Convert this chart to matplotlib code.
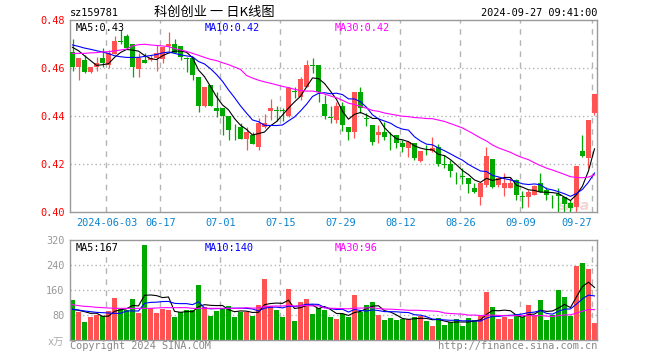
import numpy as np
import pandas as pd
import matplotlib
matplotlib.use('Agg')
import matplotlib.pyplot as plt

plt.rcParams['font.family'] = ['DejaVu Sans Mono', 'Noto Sans CJK SC']

# daily candles, 2024-05-24 .. 2024-09-27
opens = [0.4668, 0.4606, 0.4633, 0.4582, 0.4606, 0.4643, 0.4613, 0.4657, 0.4710, 0.4733,
         0.4699, 0.4594, 0.4633, 0.4633, 0.4640, 0.4636, 0.4692, 0.4699, 0.4692, 0.4640,
         0.4640, 0.4564, 0.4443, 0.4529, 0.4435, 0.4435, 0.4400, 0.4343, 0.4356, 0.4304,
         0.4321, 0.4269, 0.4356, 0.4422, 0.4424, 0.4424, 0.4400, 0.4506, 0.4481, 0.4522,
         0.4614, 0.4613, 0.4450, 0.4394, 0.4383, 0.4442, 0.4356, 0.4335, 0.4501, 0.4392,
         0.4363, 0.4322, 0.4332, 0.4306, 0.4321, 0.4286, 0.4265, 0.4289, 0.4214, 0.4260,
         0.4256, 0.4272, 0.4201, 0.4200, 0.4151, 0.4151, 0.4140, 0.4099, 0.4064, 0.4113,
         0.4219, 0.4113, 0.4101, 0.4101, 0.4133, 0.4065, 0.4064, 0.4071, 0.4119, 0.4092,
         0.4055, 0.4074, 0.4064, 0.4036, 0.4022, 0.4254, 0.4224, 0.4411]
highs = [0.4719, 0.4642, 0.4654, 0.4606, 0.4647, 0.4682, 0.4675, 0.4733, 0.4758, 0.4740,
         0.4699, 0.4661, 0.4661, 0.4654, 0.4696, 0.4686, 0.4749, 0.4719, 0.4692, 0.4644,
         0.4640, 0.4564, 0.4522, 0.4529, 0.4501, 0.4435, 0.4400, 0.4365, 0.4369, 0.4356,
         0.4335, 0.4390, 0.4407, 0.4470, 0.4442, 0.4435, 0.4522, 0.4522, 0.4564, 0.4633,
         0.4640, 0.4613, 0.4488, 0.4443, 0.4457, 0.4460, 0.4356, 0.4501, 0.4522, 0.4411,
         0.4363, 0.4363, 0.4376, 0.4335, 0.4321, 0.4300, 0.4293, 0.4289, 0.4256, 0.4279,
         0.4314, 0.4283, 0.4238, 0.4217, 0.4168, 0.4182, 0.4140, 0.4119, 0.4126, 0.4272,
         0.4219, 0.4147, 0.4161, 0.4147, 0.4136, 0.4089, 0.4092, 0.4113, 0.4161, 0.4106,
         0.4071, 0.4099, 0.4064, 0.4050, 0.4192, 0.4321, 0.4383, 0.4492]
lows = [0.4589, 0.4550, 0.4578, 0.4578, 0.4589, 0.4606, 0.4600, 0.4657, 0.4699, 0.4682,
        0.4561, 0.4561, 0.4619, 0.4631, 0.4589, 0.4619, 0.4661, 0.4661, 0.4633, 0.4582,
        0.4550, 0.4418, 0.4439, 0.4442, 0.4397, 0.4321, 0.4300, 0.4300, 0.4304, 0.4258,
        0.4283, 0.4258, 0.4349, 0.4383, 0.4381, 0.4381, 0.4397, 0.4474, 0.4467, 0.4522,
        0.4578, 0.4460, 0.4386, 0.4369, 0.4369, 0.4339, 0.4300, 0.4307, 0.4411, 0.4358,
        0.4279, 0.4286, 0.4300, 0.4258, 0.4265, 0.4251, 0.4231, 0.4217, 0.4210, 0.4238,
        0.4251, 0.4193, 0.4182, 0.4147, 0.4117, 0.4117, 0.4080, 0.4080, 0.4029, 0.4106,
        0.4099, 0.4106, 0.4067, 0.4099, 0.4050, 0.4015, 0.4022, 0.4071, 0.4085, 0.4050,
        0.4015, 0.4001, 0.4001, 0.4001, 0.4001, 0.4231, 0.4182, 0.4404]
closes = [0.4606, 0.4642, 0.4582, 0.4606, 0.4619, 0.4619, 0.4664, 0.4713, 0.4708, 0.4682,
          0.4606, 0.4643, 0.4622, 0.4643, 0.4661, 0.4686, 0.4699, 0.4661, 0.4647, 0.4636,
          0.4571, 0.4443, 0.4522, 0.4443, 0.4422, 0.4400, 0.4342, 0.4340, 0.4304, 0.4335,
          0.4283, 0.4372, 0.4372, 0.4435, 0.4421, 0.4421, 0.4515, 0.4501, 0.4554, 0.4613,
          0.4610, 0.4501, 0.4400, 0.4392, 0.4443, 0.4363, 0.4335, 0.4501, 0.4432, 0.4389,
          0.4293, 0.4332, 0.4311, 0.4303, 0.4286, 0.4272, 0.4293, 0.4224, 0.4256, 0.4257,
          0.4265, 0.4200, 0.4197, 0.4172, 0.4149, 0.4147, 0.4115, 0.4085, 0.4122, 0.4233,
          0.4103, 0.4140, 0.4122, 0.4122, 0.4071, 0.4062, 0.4085, 0.4110, 0.4085, 0.4071,
          0.4053, 0.4067, 0.4033, 0.4015, 0.4192, 0.4233, 0.4383, 0.4492]
# volume, unit 万
volumes = [128, 89.6, 57.6, 73.6, 80, 77.9, 92.8, 134.4, 98, 96,
           131, 86, 304, 103.5, 86, 99, 96, 73.6, 88.5, 97,
           97, 176, 106.7, 78, 93, 99, 108.8, 73.6, 90.7, 89.6,
           78, 112, 195, 108.8, 97, 73.6, 163, 61.9, 121.6, 131,
           83, 103.5, 97, 73.6, 67, 82, 73.6, 144, 90.7, 112,
           121.6, 80, 64, 70.4, 64, 66, 66, 73.6, 78, 61.9,
           44.8, 70.4, 48, 57.6, 67, 44.8, 70.4, 64, 76.8, 154.7,
           105.6, 67, 73.6, 67, 82, 73.6, 112, 80, 128, 64,
           80, 160, 137.6, 76.8, 236.8, 246, 227, 54.4]

# moving averages before the window is full
ma5_head = [0.4686, 0.4672, 0.4651, 0.4631]
ma10_head = [0.4696, 0.4690, 0.4683, 0.4678, 0.4672, 0.4667, 0.4660, 0.4651, 0.4647]
ma30_head = [0.4661, 0.4661, 0.4661, 0.4663, 0.4664, 0.4667, 0.4668, 0.4671, 0.4675, 0.4679,
             0.4692, 0.4697, 0.4699, 0.4696, 0.4694, 0.4692, 0.4689, 0.4681, 0.4675, 0.4669,
             0.4661, 0.4653, 0.4644, 0.4636, 0.4631, 0.4622, 0.4614, 0.4604, 0.4594]
vma5_head = [98.1, 94.9, 90.7, 85.3]
vma10_head = [98.1, 96, 92.8, 90.7, 88.5, 87.5, 86.4, 85.3, 85.3]
vma30_head = [113.1, 109.9, 107.7, 106.7, 104.5, 103.5, 102.4, 101.3, 101.3, 101.3,
              101.3, 101.3, 101.3, 101.3, 102.4, 103.5, 103.5, 103.5, 103.5, 103.5,
              101.3, 101.3, 101.3, 101.3, 101.3, 101.3, 101.3, 101.3, 101.3]

date_idx = [6, 15, 25, 35, 45, 55, 65, 75, 87]
date_labels = ['2024-06-03', '06-17', '07-01', '07-15', '07-29', '08-12', '08-26', '09-09', '09-27']

RED = '#ff5353'
GREEN = '#00a800'
GRID = '#b4b4b4'


def moving_avg(vals, n, head):
    ma = pd.Series(vals).rolling(n).mean().to_numpy()
    ma[:len(head)] = head
    return ma


x = np.arange(len(closes))
o = np.array(opens)
c = np.array(closes)
up = c >= o
colors = [RED if u else GREEN for u in up]

fig = plt.figure(figsize=(6.6, 3.6), dpi=100)
ax = fig.add_axes([70/660, 1-212/360, 527/660, 192/360])
axv = fig.add_axes([70/660, 1-340/360, 527/660, 100/360])

grid_x = [i - 0.35 for i in date_idx]
for a in (ax, axv):
    a.set_xlim(-0.42, len(closes) - 0.58)
    for gx in grid_x:
        a.axvline(gx, color=GRID, lw=1, ls=(0, (4, 4)), zorder=0)
    for s in a.spines.values():
        s.set_color('#999999')
        s.set_linewidth(1)
    a.tick_params(length=0)

# price panel
for p in (0.42, 0.44, 0.46):
    ax.axhline(p, color=GRID, lw=1, ls=(0, (1, 2)), zorder=0)
ax.text(86.3, 0.4025, 'sina', color='#f3d6d6', fontsize=10, fontstyle='italic',
        fontweight='bold', family='DejaVu Sans', ha='right', va='center', zorder=0)
ax.vlines(x, lows, highs, colors=colors, lw=0.9, zorder=2)
body = np.maximum(np.abs(c - o), 0.0003)
ax.bar(x, body, bottom=np.minimum(o, c), width=0.75, color=colors, lw=0, zorder=3)
ax.plot(x, moving_avg(closes, 5, ma5_head), color='black', lw=0.8, zorder=4)
ax.plot(x, moving_avg(closes, 10, ma10_head), color='#0000ff', lw=0.8, zorder=4)
ax.plot(x, moving_avg(closes, 30, ma30_head), color='#ff00ff', lw=0.8, zorder=4)
ax.set_ylim(0.40, 0.48)
ax.set_yticks([0.40, 0.42, 0.44, 0.46, 0.48])
ax.set_yticklabels(['%.2f' % v for v in [0.40, 0.42, 0.44, 0.46, 0.48]])
ax.tick_params(axis='y', labelcolor='red', labelsize=7.4, pad=4)
ax.set_xticks(grid_x)
ax.set_xticklabels(date_labels)
ax.tick_params(axis='x', labelcolor='#0a84d0', labelsize=7.4, pad=4)
ax.get_xticklabels()[-1].set_ha('right')

ax.text(0.01, 0.985, 'MA5:0.43', transform=ax.transAxes, color='black', fontsize=7.4, va='top')
ax.text(135/527, 0.985, 'MA10:0.42', transform=ax.transAxes, color='#0000ff', fontsize=7.4, va='top')
ax.text(265/527, 0.985, 'MA30:0.42', transform=ax.transAxes, color='#ff00ff', fontsize=7.4, va='top')

# volume panel
for v in (80, 160, 240):
    axv.axhline(v, color=GRID, lw=1, ls=(0, (1, 2)), zorder=0)
axv.bar(x, volumes, width=0.83, color=colors, lw=0, zorder=2)
axv.plot(x, moving_avg(volumes, 5, vma5_head), color='black', lw=0.8, zorder=3)
axv.plot(x, moving_avg(volumes, 10, vma10_head), color='#0000ff', lw=0.8, zorder=3)
axv.plot(x, moving_avg(volumes, 30, vma30_head), color='#ff00ff', lw=0.8, zorder=3)
axv.set_ylim(0, 320)
axv.set_yticks([80, 160, 240, 320])
axv.tick_params(axis='y', labelcolor='#999999', labelsize=7.4, pad=4)
axv.set_xticks([])
axv.text(0.01, 0.97, 'MA5:167', transform=axv.transAxes, color='black', fontsize=7.4, va='top')
axv.text(135/527, 0.97, 'MA10:140', transform=axv.transAxes, color='#0000ff', fontsize=7.4, va='top')
axv.text(265/527, 0.97, 'MA30:96', transform=axv.transAxes, color='#ff00ff', fontsize=7.4, va='top')

# header / footer
fig.text(70/660, 1-13/360, 'sz159781', fontsize=7.4, va='center', ha='left')
fig.text(214/660, 1-12/360, '科创创业 一 日K线图', fontsize=9.5, va='center', ha='center',
         family=['Noto Sans CJK SC', 'DejaVu Sans'])
fig.text(597/660, 1-13/360, '2024-09-27 09:41:00', fontsize=7.4, va='center', ha='right')
fig.text(64/660, 1-342/360, 'x万', fontsize=7.4, color='#aaaaaa', va='center', ha='right')
fig.text(70/660, 1-346/360, 'Copyright 2024 SINA.COM', fontsize=7.4, color='#888888', va='center')
fig.text(597/660, 1-346/360, 'http://finance.sina.com.cn', fontsize=7.4, color='#888888',
         va='center', ha='right')

fig.savefig('out.png', dpi=100)
